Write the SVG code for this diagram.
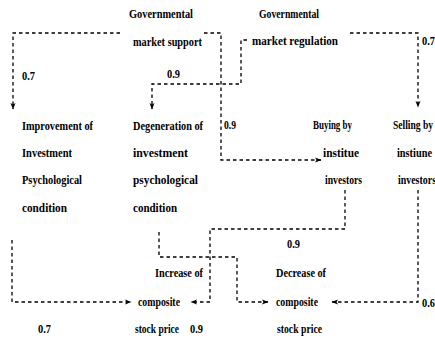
<svg xmlns="http://www.w3.org/2000/svg" width="435" height="339" viewBox="0 0 435 339">
<defs>
<style>
text{font-family:"Liberation Serif","Times New Roman",serif;font-size:13.5px;font-weight:bold;fill:#000}
.c{fill:none;stroke:#000;stroke-width:1.3;stroke-dasharray:3.5 3}
</style>
<marker id="ah" markerWidth="7" markerHeight="6" refX="6" refY="3" orient="auto" markerUnits="userSpaceOnUse">
<path d="M0,0.5 L6.5,3 L0,5.5 L1.5,3 z" fill="#000"/>
</marker>
</defs>
<rect width="435" height="339" fill="#fff"/>
<g id="connectors">
<path class="c" d="M120,33 H13 V109" marker-end="url(#ah)"/>
<path class="c" d="M204,33 H221 V160 H321" marker-end="url(#ah)"/>
<path class="c" d="M247,40 H241 V84 H152 V109" marker-end="url(#ah)"/>
<path class="c" d="M350,33 H418 V107" marker-end="url(#ah)"/>
<path class="c" d="M12,240 V302 H131" marker-end="url(#ah)"/>
<path class="c" d="M345,190 V229 H210 V302 H191" marker-end="url(#ah)"/>
<path class="c" d="M159,232 V257 H237 V302 H268" marker-end="url(#ah)"/>
<path class="c" d="M418,190 V302 H332" marker-end="url(#ah)"/>
<text x="22" y="80" textLength="13" lengthAdjust="spacingAndGlyphs">0.7</text>
<text x="167" y="78" textLength="13" lengthAdjust="spacingAndGlyphs">0.9</text>
<text x="422" y="45" textLength="13" lengthAdjust="spacingAndGlyphs">0.7</text>
<text x="224" y="129" textLength="12" lengthAdjust="spacingAndGlyphs">0.9</text>
<text x="287" y="248" textLength="13" lengthAdjust="spacingAndGlyphs">0.9</text>
<text x="38" y="333" textLength="13" lengthAdjust="spacingAndGlyphs">0.7</text>
<text x="190" y="333" textLength="13" lengthAdjust="spacingAndGlyphs">0.9</text>
<text x="422" y="307" textLength="13" lengthAdjust="spacingAndGlyphs">0.6</text>
</g>
<g id="gov_support">
<text x="129" y="18" textLength="64" lengthAdjust="spacingAndGlyphs">Governmental</text>
<text x="133" y="46" textLength="69" lengthAdjust="spacingAndGlyphs">market support</text>
</g>
<g id="gov_regulation">
<text x="259" y="18" textLength="60" lengthAdjust="spacingAndGlyphs">Governmental</text>
<text x="252" y="45" textLength="86" lengthAdjust="spacingAndGlyphs">market regulation</text>
</g>
<g id="improvement">
<text x="22" y="130" textLength="71" lengthAdjust="spacingAndGlyphs">Improvement of</text>
<text x="22" y="157" textLength="50" lengthAdjust="spacingAndGlyphs">Investment</text>
<text x="22" y="184" textLength="60" lengthAdjust="spacingAndGlyphs">Psychological</text>
<text x="22" y="212" textLength="45" lengthAdjust="spacingAndGlyphs">condition</text>
</g>
<g id="degeneration">
<text x="133" y="130" textLength="70" lengthAdjust="spacingAndGlyphs">Degeneration of</text>
<text x="133" y="157" textLength="55" lengthAdjust="spacingAndGlyphs">investment</text>
<text x="133" y="184" textLength="65" lengthAdjust="spacingAndGlyphs">psychological</text>
<text x="133" y="212" textLength="44" lengthAdjust="spacingAndGlyphs">condition</text>
</g>
<g id="buying">
<text x="313" y="129" textLength="39" lengthAdjust="spacingAndGlyphs">Buying by</text>
<text x="323" y="157" textLength="36" lengthAdjust="spacingAndGlyphs">institue</text>
<text x="325" y="184" textLength="37" lengthAdjust="spacingAndGlyphs">investors</text>
</g>
<g id="selling">
<text x="393" y="129" textLength="40" lengthAdjust="spacingAndGlyphs">Selling by</text>
<text x="397" y="157" textLength="35" lengthAdjust="spacingAndGlyphs">instiune</text>
<text x="398" y="184" textLength="38" lengthAdjust="spacingAndGlyphs">investors</text>
</g>
<g id="increase">
<text x="155" y="277" textLength="48" lengthAdjust="spacingAndGlyphs">Increase of</text>
<text x="138" y="306" textLength="42" lengthAdjust="spacingAndGlyphs">composite</text>
<text x="135" y="333" textLength="44" lengthAdjust="spacingAndGlyphs">stock price</text>
</g>
<g id="decrease">
<text x="276" y="277" textLength="50" lengthAdjust="spacingAndGlyphs">Decrease of</text>
<text x="276" y="306" textLength="42" lengthAdjust="spacingAndGlyphs">composite</text>
<text x="277" y="333" textLength="45" lengthAdjust="spacingAndGlyphs">stock price</text>
</g>
</svg>
